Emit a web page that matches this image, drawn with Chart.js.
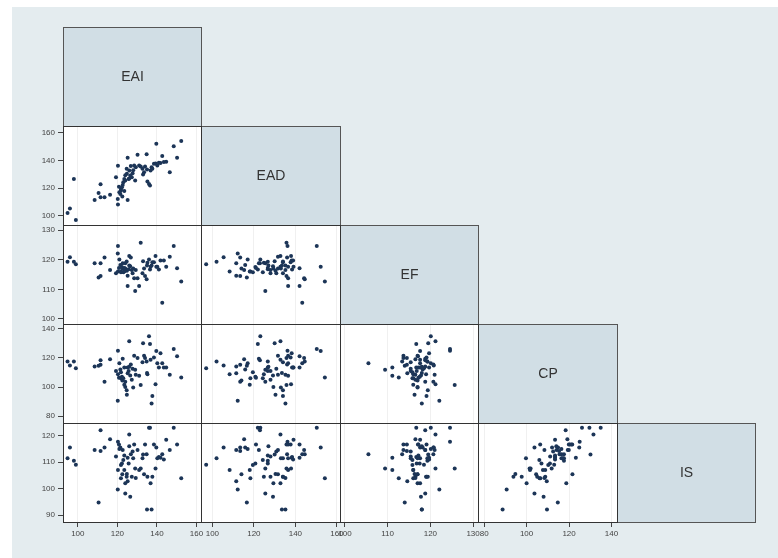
<!DOCTYPE html>
<html>
<head>
<meta charset="utf-8">
<script src="https://cdn.jsdelivr.net/npm/chart.js@4/dist/chart.umd.min.js"></script>
<style>
  html, body { margin: 0; padding: 0; background: #fff; }
  #bg { position: absolute; left: 12px; top: 7px; right: 0; bottom: 0; background: #e4ecef; }
  #matrix { position: absolute; left: 0; top: 0; }
</style>
</head>
<body>
<div id="bg"></div>
<canvas id="matrix" width="778" height="558"></canvas>
<script>
'use strict'

// noms des variables (diagonale)
const names = ['EAI', 'EAD', 'EF', 'CP', 'IS'];

const EAI = [94.8, 96, 98, 99, 108.5, 110.5, 111.5, 111.5, 113.5, 116.3,
  119.3, 120.2, 120.3, 120.3, 121, 121.8, 121.8, 122.3, 122.7, 122.5,
  121.5, 123, 123.5, 124, 124, 124.7, 124.8, 125.2, 125.2, 125.7,
  126, 126.5, 126.8, 127.3, 127.7, 128.5, 129, 129.3, 130.2, 131,
  131.8, 132.7, 133.5, 134, 134.8, 135.2, 136, 136.5, 136.8, 137.3,
  137.7, 138.5, 139.3, 139.7, 140.2, 141, 141.8, 142.7, 143.5, 144.7,
  146.5, 148.5, 150.2, 152.3, 135, 123.5, 126, 133, 128, 120.8];
const EAD = [102, 105.4, 126.7, 97, 111.5, 116.6, 122.9, 113.4, 113.4, 115.3,
  128, 112.2, 108.3, 136.2, 117, 118.3, 119.5, 120.7, 122.4, 114,
  115.8, 124.3, 126.7, 125.5, 129.4, 134, 130.4, 142, 111.5, 126.7,
  132.8, 129.2, 136, 128, 130.8, 136.5, 125.5, 135.2, 144.2, 136.5,
  135.7, 134, 131.6, 135.7, 144.5, 124.8, 123.1, 121.9, 132.8, 135.2,
  134, 137.7, 137.9, 152.2, 136.5, 138.4, 138.2, 143.3, 138.9, 139.1,
  131.6, 150.3, 142, 154.2, 133.5, 118, 127, 130, 133, 121];
const EF = [119.3, 120.8, 119.3, 118.5, 118.8, 114, 118.8, 114.5, 120.7, 116.5,
  115.4, 122.1, 116, 124.6, 120.1, 116, 115.8, 117.5, 118.8, 117,
  118.2, 115.8, 117.2, 118.8, 117, 119.4, 116.3, 111.1, 114.6, 116.8,
  121.2, 117.8, 120.7, 116.5, 115.4, 113.7, 109.4, 116.5, 113.7, 111.1,
  125.7, 115.4, 117, 114.5, 113.4, 119, 120.1, 116.7, 117.6, 118,
  119.1, 119.1, 121.2, 117.6, 117.6, 116.7, 119.7, 105.5, 119.7, 117.6,
  121, 124.6, 117.1, 112.6, 118, 116, 118, 119.5, 117, 117.2];
const CP = [117.6, 114.8, 117.6, 113, 114.1, 114.7, 118.4, 115.3, 103.7, 119.2,
  111.1, 90.6, 108.8, 125, 116.4, 106.1, 110.2, 107, 119.4, 104.5,
  112, 106, 113.4, 103.7, 100, 97.7, 94.7, 113.4, 109.5, 111,
  131.5, 108, 115.5, 105, 112.5, 121.5, 111.8, 108.4, 119.9, 107.7,
  101.4, 117, 121.6, 119.9, 117.6, 108.8, 134.9, 129.6, 118.7, 88.7,
  93.8, 120.4, 101.9, 124.8, 116.4, 113.4, 123.2, 116.4, 113.4, 113.4,
  108.4, 126.1, 121.1, 106.5, 109.6, 101.6, 114, 130.1, 99.7, 106.4];
const IS = [111.5, 115.5, 110.5, 109, 114.6, 94.8, 122.1, 114.2, 115.5, 118.7,
  112.1, 99.7, 107, 117.7, 115, 103.9, 108.9, 109.5, 114.6, 105.4,
  115.5, 110.8, 112.5, 98.2, 102, 104.5, 105.5, 111.7, 102.8, 109.5,
  120.5, 96.9, 113, 104.5, 114, 116.7, 107.6, 104, 114.6, 107,
  107.6, 111.5, 105.4, 116.7, 113, 104.5, 123, 123, 102, 92.1,
  104.5, 116.7, 107.6, 115.5, 111.5, 112, 111.7, 113, 111, 118.5,
  114.6, 123, 116.7, 103.9, 92.1, 107, 116, 112.9, 111.5, 116.7];

// graduations de chaque variable
const tickVals = [[100, 120, 140, 160], [100, 120, 140, 160], [100, 110, 120, 130],
  [80, 100, 120, 140], [90, 100, 110, 120]];

const vars = [EAI, EAD, EF, CP, IS];

// bornes des axes (horizontal / vertical)
const xRange = [[92.5, 162.5], [94.7, 161.4], [98.8, 131.2], [77.2, 142.4], [87, 125]];
const yRange = [[92, 163], [93.4, 165], [98.3, 131.7], [75.2, 143.4], [87.4, 124.8]];

const bgColor = '#e4ecef';
const diagColor = '#d1dee5';
const tickFont = { family: '"Liberation Sans", Arial, sans-serif', size: 8 };

const scales = {};
names.forEach((n, i) => {
  scales['x' + i] = {
    type: 'linear',
    position: 'bottom',
    stack: 'cols',
    stackWeight: 1,
    weight: i + 1,
    min: xRange[i][0],
    max: xRange[i][1],
    afterBuildTicks: s => { s.ticks = i < 4 ? tickVals[i].map(v => ({ value: v })) : []; },
    afterFit: s => { s.height = 22; s.paddingLeft = 0; s.paddingRight = 0; },
    grid: { display: i < 4, color: 'rgba(0,0,0,0.06)', tickColor: '#444', tickLength: 5 },
    border: { display: false },
    ticks: { display: i < 4, font: tickFont, color: '#444', padding: 2, maxRotation: 0, autoSkip: false }
  };
  scales['y' + i] = {
    type: 'linear',
    position: 'left',
    stack: 'rows',
    stackWeight: 1,
    weight: 5 - i,
    min: yRange[i][0],
    max: yRange[i][1],
    afterBuildTicks: s => { s.ticks = i > 0 ? tickVals[i].map(v => ({ value: v })) : []; },
    afterFit: s => { s.width = 33; s.paddingTop = 0; s.paddingBottom = 0; },
    grid: { display: i > 0, drawOnChartArea: false, tickColor: '#444', tickLength: 5 },
    border: { display: false },
    ticks: { display: i > 0, font: tickFont, color: '#444', padding: 3, autoSkip: false }
  };
});

// un nuage de points par case sous la diagonale
const datasets = [];
for (let r = 1; r < 5; r++) {
  for (let c = 0; c < r; c++) {
    datasets.push({
      data: vars[r].map((v, k) => ({ x: vars[c][k], y: v })),
      xAxisID: 'x' + c,
      yAxisID: 'y' + r,
      pointRadius: 2,
      pointBackgroundColor: '#1c3557',
      pointBorderWidth: 0
    });
  }
}

function cell(chart, r, c) {
  const sx = chart.scales['x' + c], sy = chart.scales['y' + r];
  const x0 = Math.round(sx.left) + 0.5, x1 = Math.round(sx.right) + 0.5;
  const y0 = Math.round(sy.top) + 0.5, y1 = Math.round(sy.bottom) + 0.5;
  return { x: x0, y: y0, w: x1 - x0, h: y1 - y0 };
}

const matrixPlugin = {
  id: 'matrix',
  beforeDraw(chart) {
    const ctx = chart.ctx;
    ctx.save();
    ctx.fillStyle = '#fff';
    for (let r = 1; r < 5; r++)
      for (let c = 0; c < r; c++) {
        const b = cell(chart, r, c);
        ctx.fillRect(b.x, b.y, b.w, b.h);
      }
    ctx.restore();
  },
  afterDatasetsDraw(chart) {
    const ctx = chart.ctx;
    ctx.save();
    // cases au-dessus de la diagonale : fond
    ctx.fillStyle = bgColor;
    for (let r = 0; r < 5; r++)
      for (let c = r + 1; c < 5; c++) {
        const b = cell(chart, r, c);
        ctx.fillRect(b.x - 0.5, b.y - 0.5, b.w + 1, b.h + 1);
      }
    // diagonale
    for (let i = 0; i < 5; i++) {
      const b = cell(chart, i, i);
      ctx.fillStyle = diagColor;
      ctx.fillRect(b.x, b.y, b.w, b.h);
      ctx.strokeStyle = '#555';
      ctx.lineWidth = 1;
      ctx.strokeRect(b.x, b.y, b.w, b.h);
      ctx.fillStyle = '#333';
      ctx.font = '14px "Liberation Sans", Arial, sans-serif';
      ctx.textAlign = 'center';
      ctx.textBaseline = 'middle';
      ctx.fillText(names[i], b.x + b.w / 2, b.y + b.h / 2);
    }
    // cadres des nuages
    ctx.strokeStyle = '#333';
    for (let r = 1; r < 5; r++)
      for (let c = 0; c < r; c++) {
        const b = cell(chart, r, c);
        ctx.strokeRect(b.x, b.y, b.w, b.h);
      }
    ctx.restore();
  }
};

new Chart(document.getElementById('matrix'), {
  type: 'scatter',
  data: { datasets: datasets },
  options: {
    responsive: false,
    animation: false,
    devicePixelRatio: 1,
    layout: { padding: { left: 30, top: 27, right: 23, bottom: 14 } },
    scales: scales,
    plugins: { legend: { display: false }, tooltip: { enabled: false } }
  },
  plugins: [matrixPlugin]
});
</script>
</body>
</html>
